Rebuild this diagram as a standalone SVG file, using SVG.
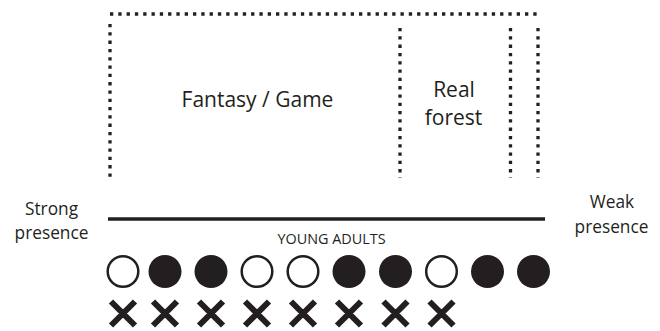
<svg xmlns="http://www.w3.org/2000/svg" width="660" height="331" viewBox="0 0 660 331">
<style>
.dot{fill:none;stroke:#231f20;stroke-width:3.3;stroke-dasharray:3.3 5}
.t{font-family:"Open Sans","Noto Sans",sans-serif;fill:#231f20;text-anchor:middle}
.o{fill:#fff;stroke:#231f20;stroke-width:2.5}
.f{fill:#231f20}
.x{stroke:#231f20;stroke-width:6}
</style>
<rect width="660" height="331" fill="#fff"/>
<g id="connectors">
<line class="dot" x1="110" y1="14" x2="538" y2="14"/>
<line class="dot" x1="110" y1="24" x2="110" y2="178"/>
<line class="dot" x1="400" y1="28" x2="400" y2="178"/>
<line class="dot" x1="510.5" y1="28" x2="510.5" y2="178"/>
<line class="dot" x1="538" y1="28" x2="538" y2="178"/>
<line x1="108" y1="219" x2="545" y2="219" stroke="#231f20" stroke-width="3.5"/>
</g>
<g id="fantasy"><text class="t" x="257.5" y="107" font-size="21">Fantasy / Game</text></g>
<g id="real-forest"><text class="t" x="454" y="97" font-size="21">Real</text><text class="t" x="453.5" y="125" font-size="21">forest</text></g>
<g id="strong"><text class="t" x="51.5" y="215" font-size="17.3">Strong</text><text class="t" x="51.5" y="238.5" font-size="17.3">presence</text></g>
<g id="weak"><text class="t" x="612" y="208" font-size="17.3">Weak</text><text class="t" x="611.5" y="233" font-size="17.3">presence</text></g>
<g id="young-adults"><text class="t" x="331.5" y="244" font-size="14.4">YOUNG ADULTS</text></g>
<g id="circles">
<circle class="o" cx="123" cy="271.5" r="15.3"/>
<circle class="f" cx="165" cy="271.5" r="16.5"/>
<circle class="f" cx="211" cy="271.5" r="16.5"/>
<circle class="o" cx="257" cy="271.5" r="15.3"/>
<circle class="o" cx="303" cy="271.5" r="15.3"/>
<circle class="f" cx="349" cy="271.5" r="16.5"/>
<circle class="f" cx="395.5" cy="271.5" r="16.5"/>
<circle class="o" cx="441.5" cy="271.5" r="15.3"/>
<circle class="f" cx="487.5" cy="271.5" r="16.5"/>
<circle class="f" cx="533.5" cy="271.5" r="16.5"/>
</g>
<g id="crosses">
<path class="x" d="M111 301.5l24 24M135 301.5l-24 24M153 301.5l24 24M177 301.5l-24 24M199 301.5l24 24M223 301.5l-24 24M245 301.5l24 24M269 301.5l-24 24M291 301.5l24 24M315 301.5l-24 24M337 301.5l24 24M361 301.5l-24 24M383.5 301.5l24 24M407.5 301.5l-24 24M429.5 301.5l24 24M453.5 301.5l-24 24"/>
</g>
</svg>
